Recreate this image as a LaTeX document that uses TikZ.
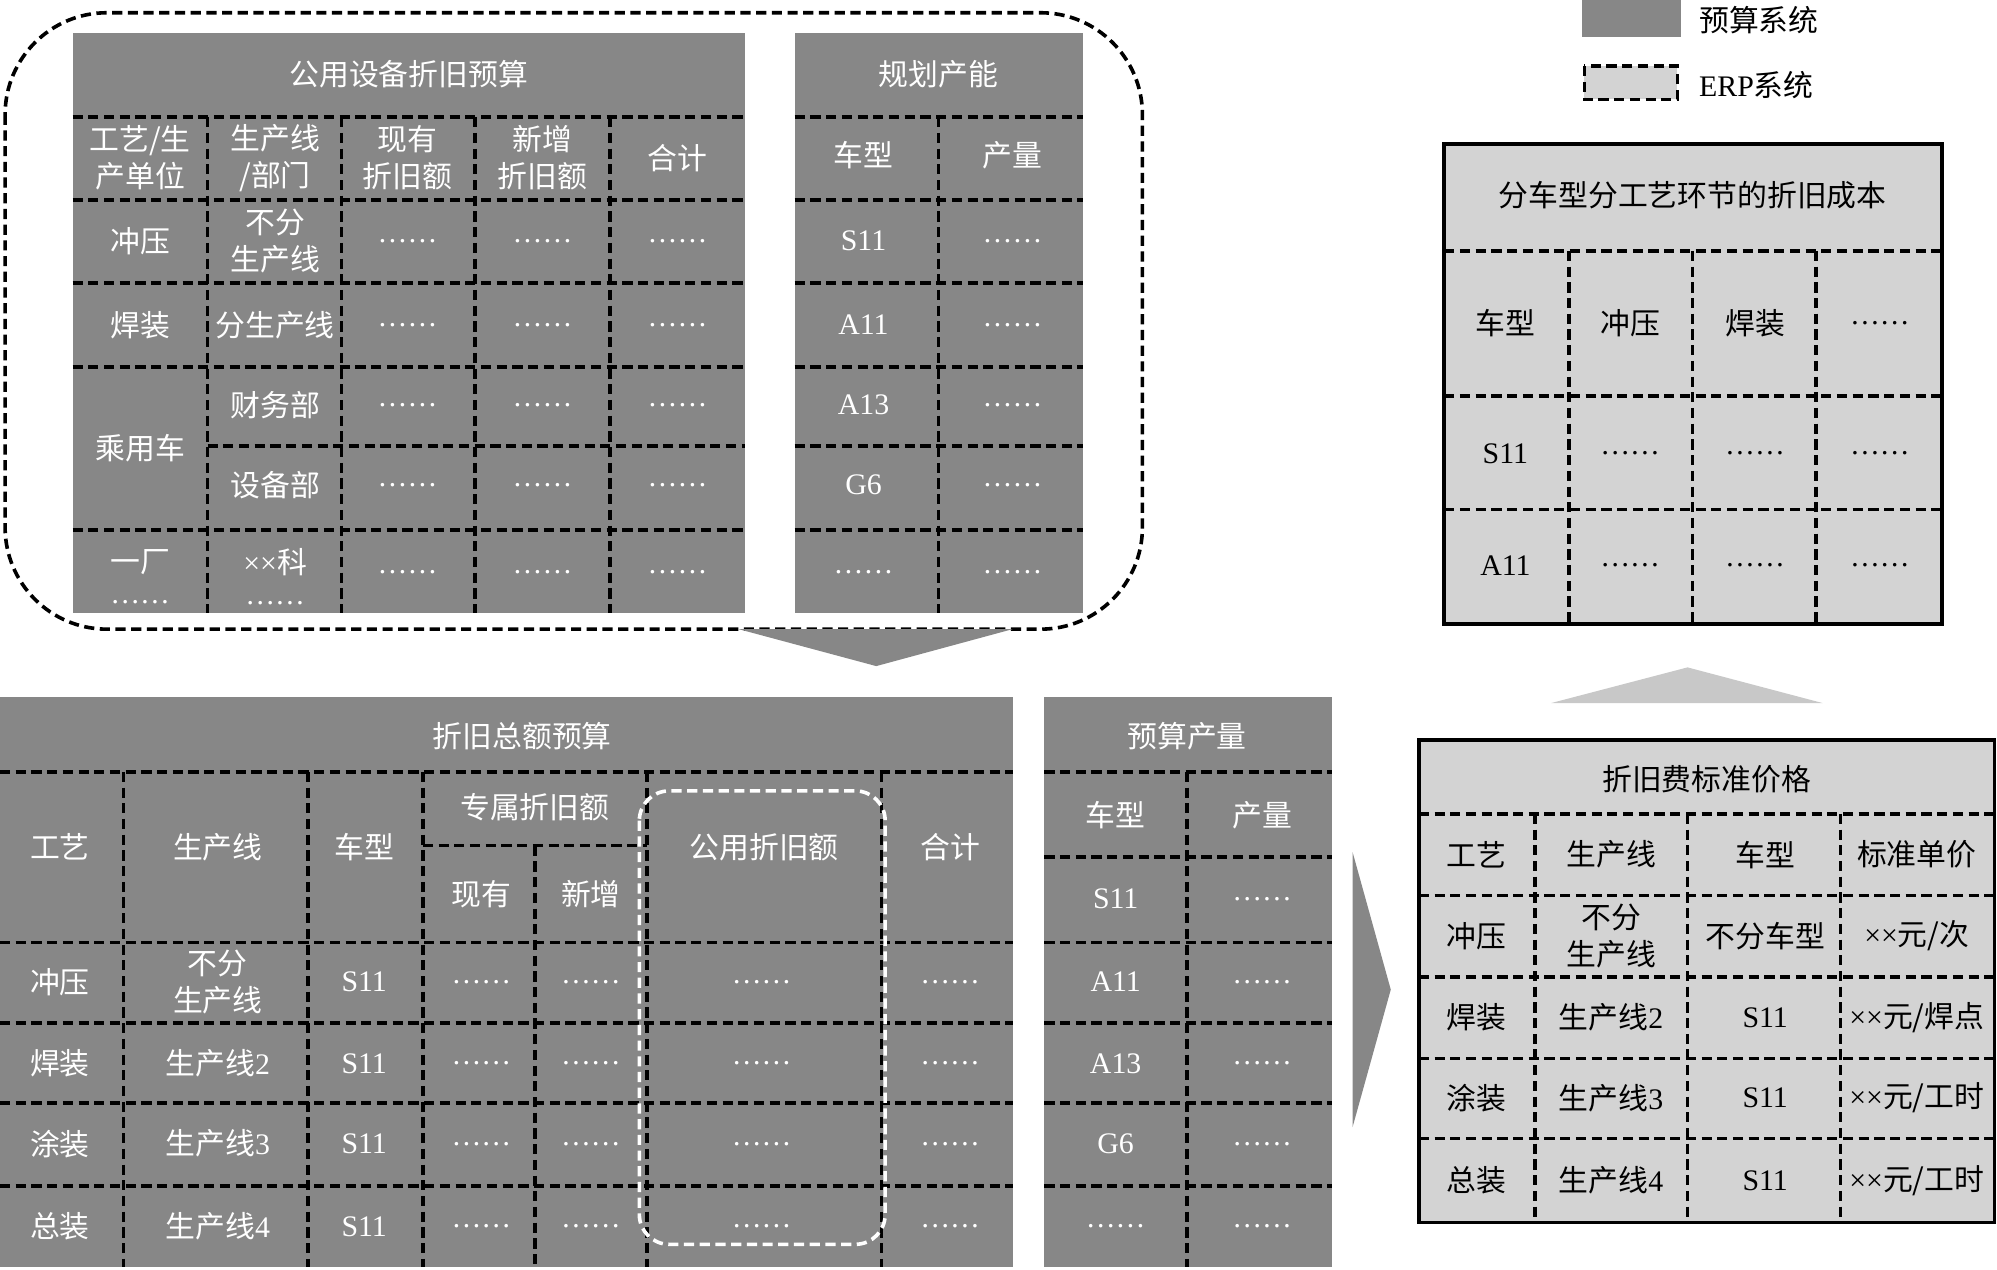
\documentclass[tikz,border=0pt]{standalone}
\usepackage{fontspec}
\usepackage{xcolor}
\usepackage{tikz}
\setmainfont{Noto Sans CJK SC}
\newfontfamily\latin{Liberation Serif}
\newcommand\cellfont{\fontsize{20}{25}\selectfont}
\newcommand\moredots{{\latin ……}}
\definecolor{budgetgray}{HTML}{878787}
\definecolor{erpgray}{HTML}{D3D3D3}
\definecolor{liftgray}{HTML}{C8C8C8}

\begin{document}
\begin{tikzpicture}[x=0.3mm,y=-0.3mm,
    cellline/.style={line width=0.85mm,dash pattern=on 2.4mm off 1.3mm},
    wcell/.style={text=white,font=\cellfont,align=center},
    bcell/.style={text=black,font=\cellfont,align=center}]
    \useasboundingbox (0,0) rectangle (1568,997);
    % legend
    \fill[budgetgray] (1242,0) rectangle (1320,29);
    \node[bcell,anchor=west] (lgbudget) at (1330,16) {预算系统};
    \filldraw[fill=erpgray,cellline] (1244,52) rectangle (1317,78);
    \node[bcell,anchor=west] (lgerp) at (1330,67) {{\latin ERP}系统};
    % 公用设备折旧预算
    \fill[budgetgray] (57,26) rectangle (585,481);
    \foreach \y in {92,157,222,288,416} \draw[cellline] (57,\y) -- (585,\y);
    \draw[cellline] (163,350) -- (585,350);
    \foreach \x in {163,268,373,479} \draw[cellline] (\x,92) -- (\x,481);
    \node[wcell] (gytitle) at (321,58) {公用设备折旧预算};
    \node[wcell] (gyh1) at (110,124) {工艺/生\\产单位};
    \node[wcell] (gyh2) at (216,124) {生产线\\/部门};
    \node[wcell] (gyh3) at (320,124) {现有\\折旧额};
    \node[wcell] (gyh4) at (426,124) {新增\\折旧额};
    \node[wcell] (gyh5) at (532,124) {合计};
    \node[wcell] (gyp1) at (110,189) {冲压};
    \node[wcell] (gyp2) at (110,255) {焊装};
    \node[wcell] (gyp3) at (110,352) {乘用车};
    \node[wcell] (gyp4) at (110,453) {一厂\\[-4pt]\moredots};
    \node[wcell] (gyl1) at (216,189) {不分\\生产线};
    \node[wcell] (gyl2) at (216,255) {分生产线};
    \node[wcell] (gyl3) at (216,318) {财务部};
    \node[wcell] (gyl4) at (216,381) {设备部};
    \node[wcell] (gyl5) at (216,453) {{\latin ××}科\\[-4pt]\moredots};
    \foreach \y/\r in {189/1,255/2,318/3,381/4,449/5}
      \foreach \x/\c in {320/1,426/2,532/3}
        \node[wcell] (gyd\r\c) at (\x,\y) {\moredots};
    % 规划产能
    \fill[budgetgray] (624,26) rectangle (850,481);
    \foreach \y in {92,157,222,288,350,416} \draw[cellline] (624,\y) -- (850,\y);
    \draw[cellline] (737,92) -- (737,481);
    \node[wcell] (ghtitle) at (737,58) {规划产能};
    \node[wcell] (ghh1) at (678,122) {车型};
    \node[wcell] (ghh2) at (795,122) {产量};
    \foreach \y/\t/\r in {189/S11/1,255/A11/2,318/A13/3,381/G6/4,449/\moredots/5} {
      \node[wcell] (ghm\r) at (678,\y) {\latin \t};
      \node[wcell] (ghq\r) at (795,\y) {\moredots};
    }
    % enclosing box and down arrow
    \draw[cellline,rounded corners=24mm] (4,10) rectangle (897,494);
    \fill[budgetgray] (580,494) -- (795,494) -- (688,523) -- cycle;
    % 折旧总额预算
    \fill[budgetgray] (0,547) rectangle (795,995);
    \foreach \y in {606,740,803,866,931} \draw[cellline] (0,\y) -- (795,\y);
    \draw[cellline] (332,664) -- (508,664);
    \foreach \x in {97,242,332,508,692} \draw[cellline] (\x,606) -- (\x,995);
    \draw[cellline] (420,664) -- (420,995);
    \draw[cellline,white,rounded corners=7mm] (502,621) rectangle (695,977);
    \node[wcell] (zetitle) at (410,578) {折旧总额预算};
    \node[wcell] (zeh1) at (47,665) {工艺};
    \node[wcell] (zeh2) at (171,665) {生产线};
    \node[wcell] (zeh3) at (286,665) {车型};
    \node[wcell] (zeh4) at (420,634) {专属折旧额};
    \node[wcell] (zeh5) at (378,702) {现有};
    \node[wcell] (zeh6) at (464,702) {新增};
    \node[wcell] (zeh7) at (600,665) {公用折旧额};
    \node[wcell] (zeh8) at (746,665) {合计};
    \node[wcell] (zel1) at (171,771) {不分\\生产线};
    \foreach \y/\p/\r in {771/冲压/1,835/焊装/2,898/涂装/3,963/总装/4} {
      \node[wcell] (zep\r) at (47,\y) {\p};
      \node[wcell] (zem\r) at (286,\y) {\latin S11};
      \foreach \x/\c in {378/1,464/2,598/3,746/4}
        \node[wcell] (zed\r\c) at (\x,\y) {\moredots};
    }
    \foreach \y/\n/\r in {835/2/2,898/3/3,963/4/4}
      \node[wcell] (zel\r) at (171,\y) {生产线{\latin\n}};
    % 预算产量
    \fill[budgetgray] (820,547) rectangle (1046,995);
    \foreach \y in {606,673,740,803,866,931} \draw[cellline] (820,\y) -- (1046,\y);
    \draw[cellline] (932,606) -- (932,995);
    \node[wcell] (yctitle) at (932,578) {预算产量};
    \node[wcell] (ych1) at (876,640) {车型};
    \node[wcell] (ych2) at (991,640) {产量};
    \foreach \y/\t/\r in {706/S11/1,771/A11/2,835/A13/3,898/G6/4,963/\moredots/5} {
      \node[wcell] (ycm\r) at (876,\y) {\latin \t};
      \node[wcell] (ycq\r) at (991,\y) {\moredots};
    }
    % right arrow
    \fill[budgetgray] (1062,669) -- (1092,777) -- (1062,885) -- cycle;
    % 折旧费标准价格
    \filldraw[fill=erpgray,line width=0.85mm] (1114,581) rectangle (1566,960);
    \foreach \y in {639,703,767,831,894} \draw[cellline] (1114,\y) -- (1566,\y);
    \foreach \x in {1205,1325,1445} \draw[cellline] (\x,639) -- (\x,960);
    \node[bcell] (bztitle) at (1340,612) {折旧费标准价格};
    \node[bcell] (bzh1) at (1159,671) {工艺};
    \node[bcell] (bzh2) at (1265,671) {生产线};
    \node[bcell] (bzh3) at (1386,671) {车型};
    \node[bcell] (bzh4) at (1505,671) {标准单价};
    \node[bcell] (bzp1) at (1159,735) {冲压};
    \node[bcell] (bzl1) at (1265,735) {不分\\生产线};
    \node[bcell] (bzm1) at (1386,735) {不分车型};
    \node[bcell] (bzu1) at (1505,735) {{\latin ××}元/次};
    \foreach \y/\p/\n/\u/\r in {799/焊装/2/焊点/2,862/涂装/3/工时/3,927/总装/4/工时/4} {
      \node[bcell] (bzp\r) at (1159,\y) {\p};
      \node[bcell] (bzl\r) at (1265,\y) {生产线{\latin\n}};
      \node[bcell] (bzm\r) at (1386,\y) {\latin S11};
      \node[bcell] (bzu\r) at (1505,\y) {{\latin ××}元/\u};
    }
    % up arrow
    \fill[liftgray] (1218,552) -- (1325,524) -- (1431,552) -- cycle;
    % 分车型分工艺环节的折旧成本
    \filldraw[fill=erpgray,line width=0.85mm] (1134,113) rectangle (1525,490);
    \foreach \y in {197,311,400} \draw[cellline] (1134,\y) -- (1525,\y);
    \foreach \x in {1232,1329,1426} \draw[cellline] (\x,197) -- (\x,490);
    \node[bcell] (cbtitle) at (1329,153) {分车型分工艺环节的折旧成本};
    \node[bcell] (cbh1) at (1182,254) {车型};
    \node[bcell] (cbh2) at (1280,254) {冲压};
    \node[bcell] (cbh3) at (1378,254) {焊装};
    \node[bcell] (cbh4) at (1476,254) {\moredots};
    \foreach \y/\t/\r in {356/S11/1,444/A11/2} {
      \node[bcell] (cbm\r) at (1182,\y) {\latin \t};
      \foreach \x/\c in {1280/1,1378/2,1476/3}
        \node[bcell] (cbd\r\c) at (\x,\y) {\moredots};
    }
\end{tikzpicture}
\end{document}
